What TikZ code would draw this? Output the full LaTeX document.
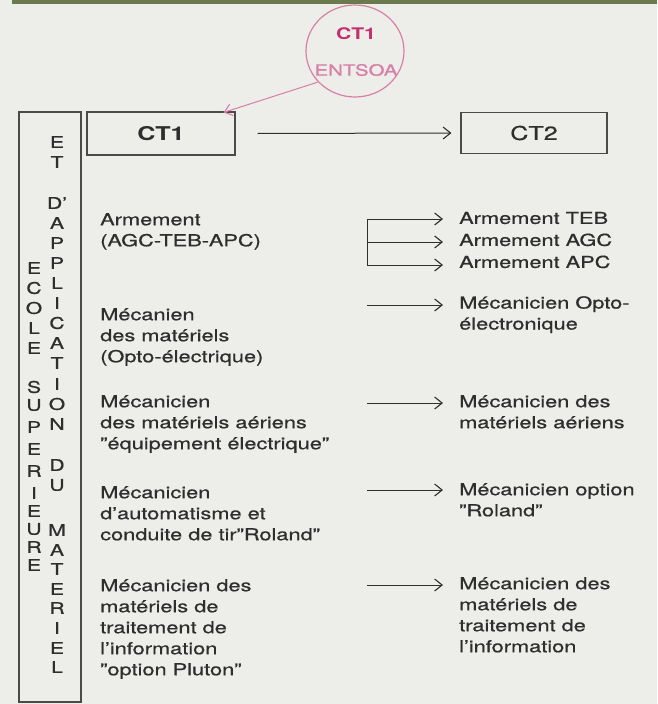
\documentclass[tikz,border=0pt]{standalone}
\usepackage{fontspec}
\setmainfont[FakeStretch=1.32, UprightFeatures={FakeBold=0.7}]{TeX Gyre Heros}
\usetikzlibrary{arrows.meta,shapes.geometric}
\definecolor{paper}{HTML}{EDEDEA}
\definecolor{ink}{HTML}{2E2E2E}
\definecolor{rule}{HTML}{4A4A4A}
\definecolor{rose}{HTML}{D77FA6}
\definecolor{roseink}{HTML}{C2306E}
\definecolor{band}{HTML}{6B7A4E}
\newcommand\dq{\char34\relax}
\tikzset{
  txt/.style={anchor=north west, inner sep=0pt, align=left, text=ink,
    font=\fontsize{16.5}{21}\selectfont, execute at begin node=\strut},
  ltr/.style={inner sep=0pt, text=ink, font=\fontsize{16}{16}\selectfont},
  frame/.style={draw=rule, line width=1.1pt, inner sep=0pt},
  arr/.style={draw=ink, line width=1pt, -{Straight Barb[length=7.5pt,width=12pt,line width=1.1pt]}},
}
\begin{document}
\begin{tikzpicture}[x=1pt,y=-1pt]
\useasboundingbox (0,0) rectangle (657,704);
\fill[paper] (0,0) rectangle (657,704);
\fill[band] (12,0) rectangle (657,4);

% school column
\node[frame, minimum width=62, minimum height=590] (ecole) at (50,407) {};
\foreach \l/\y in {E/268,C/288,O/308,L/328,E/348,S/387,U/405,P/427,E/449,R/471,I/493,E/511,U/529,R/547,E/565}
  \node[ltr] at (34,\y) {\l};
\foreach \l/\y in {E/142,T/162,D'/203,A/223,P/243,P/263,L/283,I/303,C/323,A/343,T/363,I/384,O/404,N/424,D/465,U/485,M/530,A/550,T/569,E/589,R/608,I/628,E/648,L/667}
  \node[ltr] at (57,\y) {\l};

% ENTSOA
\node[ellipse, draw=rose, line width=1.2pt, minimum width=98, minimum height=92, inner sep=0pt] (ent) at (355,51) {};
\node[text=roseink, font=\fontsize{16}{16}\selectfont\bfseries] (enttitle) at (356,34) {CT1};
\node[text=rose, font=\fontsize{15.5}{15.5}\selectfont] (entname) at (356,70) {ENTSOA};

% CT1 -> CT2
\node[frame, minimum width=148, minimum height=43, text=ink, font=\fontsize{19}{19}\selectfont\bfseries] (ctone) at (161,133.5) {CT1};
\node[frame, minimum width=146, minimum height=41, text=ink, font=\fontsize{19}{19}\selectfont] (cttwo) at (534,133) {CT2};
\draw[arr] ([xshift=22pt]ctone.east) -- ([xshift=-9pt]cttwo.west);
\draw[arr, draw=rose] (ent.220) -- ([xshift=-12pt,yshift=-1pt]ctone.north east);

% CT1 courses
\node[txt] (arm) at (100,213) {Armement\\(AGC-TEB-APC)};
\node[txt] (meca) at (100,308) {Mécanien\\des matériels\\(Opto-électrique)};
\node[txt] (aer) at (100,395) {Mécanicien\\des matériels aériens\\\dq équipement électrique\dq};
\node[txt] (rol) at (100,486) {Mécanicien\\d'automatisme et\\conduite de tir\dq Roland\dq};
\node[txt] (plu) at (100,579) {Mécanicien des\\matériels de\\traitement de\\l'information\\\dq option Pluton\dq};

% CT2 courses
\node[txt] (teb) at (459,209) {Armement TEB};
\node[txt] (agc) at (459,231) {Armement AGC};
\node[txt] (apc) at (459,253) {Armement APC};
\node[txt] (opto) at (459,296) {Mécanicien Opto-\\électronique};
\node[txt] (maer) at (459,395) {Mécanicien des\\matériels aériens};
\node[txt] (mrol) at (459,483) {Mécanicien option\\\dq Roland\dq};
\node[txt] (minf) at (459,577) {Mécanicien des\\matériels de\\traitement de\\l'information};

% links
\coordinate (kteb) at (367,219);
\coordinate (kagc) at (367,242);
\coordinate (kapc) at (367,265);
\draw[draw=ink, line width=1pt] (kteb) -- (kapc);
\foreach \n/\y in {opto/305,maer/403,mrol/490,minf/585}
  \coordinate (k\n) at (367,\y);
\foreach \n in {teb,agc,apc,opto,maer,mrol,minf}
  \draw[arr, shorten >=16pt] (k\n) -- (k\n -| \n.west);
\end{tikzpicture}
\end{document}
